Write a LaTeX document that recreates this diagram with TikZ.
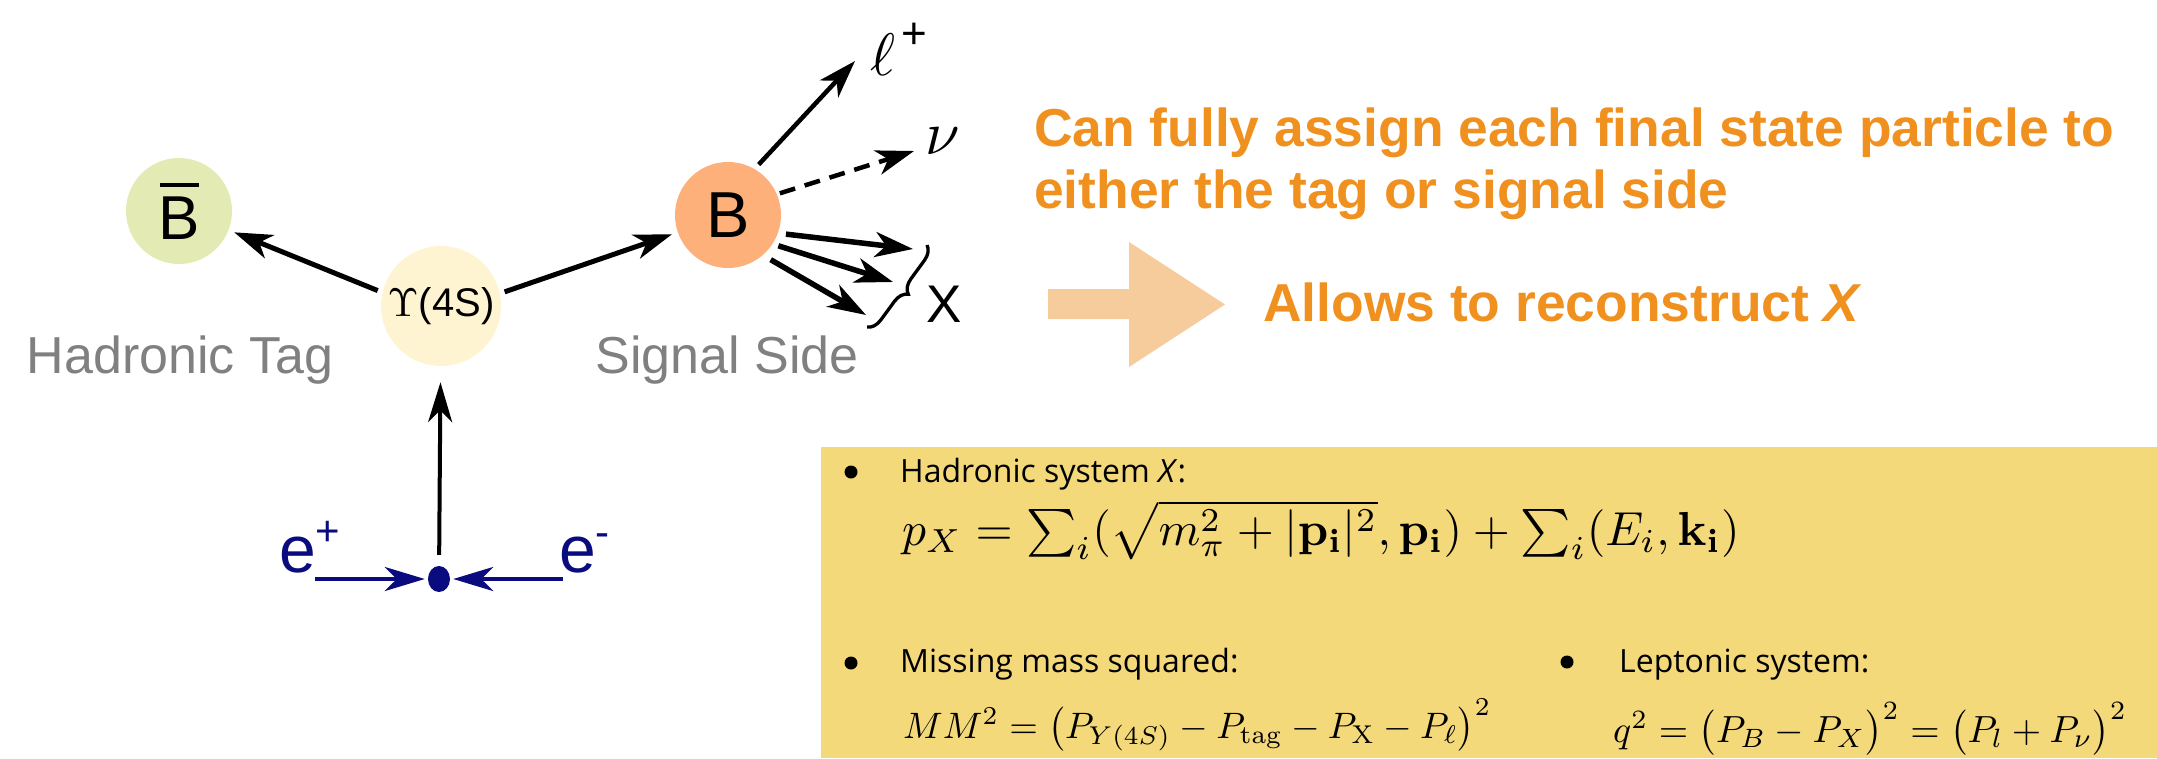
\documentclass[tikz,border=0pt]{standalone}
\usepackage[no-math]{fontspec}
\setmainfont{Liberation Sans}
\newfontfamily\osans{Open Sans}
\usepackage{amsmath}
\usepackage{graphicx}
\usetikzlibrary{arrows.meta,decorations.pathreplacing,shapes.geometric}
\definecolor{cBbar}{HTML}{E3EAB3}
\definecolor{cY}{HTML}{FFF4D2}
\definecolor{cB}{HTML}{FDB07A}
\definecolor{cgray}{HTML}{808080}
\definecolor{cnavy}{HTML}{0B0B80}
\definecolor{corange}{HTML}{EF901F}
\definecolor{cpeach}{HTML}{F6CC9C}
\definecolor{cbox}{HTML}{F4D97B}
\begin{document}
\begin{tikzpicture}[x=1pt,y=-1pt,
  ball/.style={circle, inner sep=0pt, minimum size=#1},
  ar/.style={line width=5pt, -{Stealth[length=38pt,width=25pt,inset=11pt]}},
  navyar/.style={cnavy, line width=4.5pt, -{Stealth[length=40pt,width=24pt,inset=12pt]}},
  lbl/.style={inner sep=0pt, text=cgray, font=\fontsize{52}{60}\selectfont},
  otext/.style={inner sep=0pt, anchor=base west, text=corange, font=\bfseries\fontsize{53.4}{60}\selectfont},
  btext/.style={inner sep=0pt, anchor=base west, font=\osans\fontsize{32}{38}\selectfont},
  bul/.style={circle, fill=black, inner sep=0pt, minimum size=13pt},
  fml/.style={inner sep=0pt, anchor=base west}]
\useasboundingbox (0,0) rectangle (2157,758);

% circles
\node[ball=106pt, fill=cBbar] (Bbar) at (179,211) {\fontsize{62}{62}\selectfont\rlap{\kern1.5pt\rule[52pt]{39pt}{4.5pt}}B};
\node[ball=120pt, fill=cY] (Y) at (441,306) {\scalebox{4}{$\Upsilon$}\fontsize{40}{40}\selectfont(4S)};
\node[ball=106pt, fill=cB] (B) at (728,215) {\fontsize{65}{65}\selectfont B};

\node[lbl, anchor=base] (ht) at (180,373) {Hadronic Tag};
\node[lbl, anchor=base] (ss) at (727,373) {Signal Side};

% decay arrows
\draw[ar, shorten <=5pt, shorten >=6pt] (Y.167) -- (Bbar.-21);
\draw[ar, shorten <=5pt, shorten >=6pt] (Y.12) -- (B.-161);

\coordinate (lep) at (855,61);
\coordinate (nu) at (914,151);
\coordinate (x1) at (913,249);
\coordinate (x2) at (893,282);
\coordinate (x3) at (866,315);
\draw[ar, line width=4.5pt, shorten <=6pt] (B.60) -- (lep);
\draw[ar, line width=4.5pt, dash pattern=on 16pt off 10pt, shorten <=3pt] (B.23) -- (nu);
\draw[ar, line width=5.5pt, shorten <=8pt] (B.-20) -- (x1);
\draw[ar, line width=5.5pt, shorten <=6pt] (B.-33) -- (x2);
\draw[ar, line width=5.5pt, shorten <=9pt] (B.-49) -- (x3);

\coordinate (bt) at (927,245);
\coordinate (bb) at (867,327);
\draw[line width=3.3pt, decorate, decoration={brace, amplitude=14pt}] (bt) -- (bb);

\node[inner sep=0pt, anchor=base west] (lt) at (870,75) {\scalebox{6}{$\ell$}\hspace{6pt}\raisebox{27pt}{\fontsize{44}{44}\selectfont +}};
\node[inner sep=0pt, anchor=base west] (nut) at (925,154) {\scalebox{6.2}{$\nu$}};
\node[inner sep=0pt, anchor=base west] (xt) at (926,322) {\fontsize{53}{53}\selectfont X};

% beams
\node[ellipse, fill=cnavy, minimum width=22pt, minimum height=26pt, inner sep=0pt] (dot) at (439,579) {};
\coordinate (ep) at (315,579);
\coordinate (em) at (563,579);
\draw[navyar, shorten >=3pt] (ep) -- (dot);
\draw[navyar, shorten >=3pt] (em) -- (dot);
\draw[navyar, black, line width=4pt, shorten <=11pt, shorten >=16pt] (dot) -- (Y);
\node[inner sep=0pt, anchor=base west, text=cnavy] (ept) at (279,572) {\fontsize{66}{66}\selectfont e\raisebox{27pt}{\fontsize{42}{42}\selectfont +}};
\node[inner sep=0pt, anchor=base west, text=cnavy] (emt) at (559,572) {\fontsize{66}{66}\selectfont e\raisebox{26pt}{\fontsize{42}{42}\selectfont -}};

% orange text and arrow
\node[otext] (t1) at (1034,146) {Can fully assign each final state particle to};
\node[otext] (t2) at (1034,208) {either the tag or signal side};
\fill[cpeach] (1048,289) -- (1129,289) -- (1129,242) -- (1225,304.5) -- (1129,367) -- (1129,319) -- (1048,319) -- cycle;
\node[otext] (t3) at (1263,321) {Allows to reconstruct \textit{X}};

% yellow box
\fill[cbox] (821,447) rectangle (2157,758);
\node[bul] (b1) at (851,472) {};
\node[btext] (h1) at (900,482) {Hadronic system \textit{X}:};
\node[fml] (f1) at (902,545) {\scalebox{4.77}{$p_X=\sum_i(\sqrt{m_\pi^2+|\mathbf{p_i}|^2},\mathbf{p_i})+\sum_i(E_i,\mathbf{k_i})$}};
\node[bul] (b2) at (851,663) {};
\node[btext] (h2) at (900,672) {Missing mass squared:};
\node[fml] (f2) at (903,738) {\scalebox{3.68}{$MM^2=\bigl(P_{Y(4S)}-P_{\rm tag}-P_{\rm X}-P_\ell\bigr)^2$}};
\node[bul] (b3) at (1567,662) {};
\node[btext] (h3) at (1619,672) {Leptonic system:};
\node[fml] (f3) at (1613,742) {\scalebox{3.78}{$q^2=\bigl(P_B-P_X\bigr)^2=\bigl(P_l+P_\nu\bigr)^2$}};
\end{tikzpicture}
\end{document}
